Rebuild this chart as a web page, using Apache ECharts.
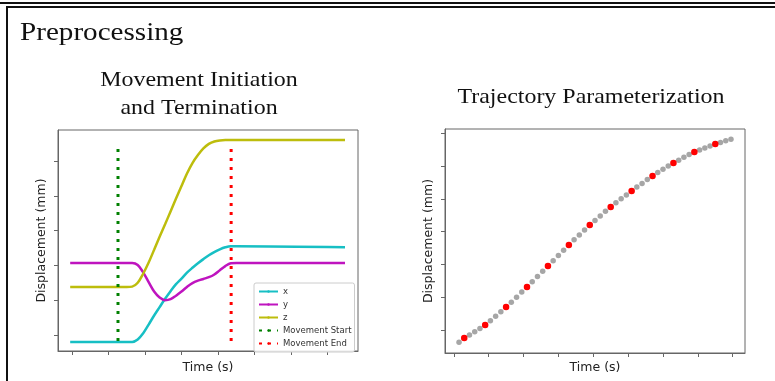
<!DOCTYPE html>
<html>
<head>
<meta charset="utf-8">
<script src="https://cdn.jsdelivr.net/npm/echarts@6/dist/echarts.min.js"></script>
<style>
html,body{margin:0;padding:0;background:#fff;}
#chart{width:775px;height:381px;}
</style>
</head>
<body>
<div id="chart"></div>
<script>
// ---- Left panel: movement initiation / termination ----
const timeLeft = [-0.05, 1.5, 1.65, 1.8, 1.95, 2.1, 2.25, 2.4, 2.55, 2.7, 2.85, 3.0, 3.15, 3.3, 3.45, 3.6, 3.75, 3.9, 4.05, 4.2, 4.35, 4.5, 7.48];
const xValues = [-0.20, -0.20, -0.20, -0.13, 0.05, 0.30, 0.56, 0.80, 1.04, 1.26, 1.46, 1.62, 1.79, 1.93, 2.06, 2.18, 2.29, 2.38, 2.46, 2.52, 2.55, 2.55, 2.52];
const yValues = [2.07, 2.07, 2.07, 2.01, 1.80, 1.52, 1.25, 1.08, 1.00, 1.03, 1.13, 1.25, 1.38, 1.49, 1.56, 1.61, 1.66, 1.74, 1.86, 1.98, 2.06, 2.07, 2.07];
const zValues = [1.38, 1.38, 1.39, 1.50, 1.76, 2.08, 2.45, 2.82, 3.18, 3.55, 3.92, 4.28, 4.64, 4.94, 5.17, 5.36, 5.49, 5.56, 5.59, 5.60, 5.60, 5.60, 5.60];
const movementStart = 1.26;
const movementEnd = 4.36;
const markerRange = [-0.17, 5.49];
const leftXTicks = [0, 1, 2, 3, 4, 5, 6, 7];
const leftYTicks = [0, 1, 2, 3, 4, 5];

// ---- Right panel: trajectory parameterization ----
const trajValues = [-0.37, -0.24, -0.15, -0.05, 0.05, 0.15, 0.28, 0.42, 0.56, 0.70,
  0.85, 1.00, 1.16, 1.31, 1.47, 1.63, 1.79, 1.95, 2.11, 2.27,
  2.43, 2.59, 2.75, 2.90, 3.05, 3.20, 3.34, 3.48, 3.62, 3.75,
  3.88, 4.00, 4.12, 4.24, 4.36, 4.47, 4.59, 4.70, 4.80, 4.90,
  5.00, 5.09, 5.18, 5.27, 5.35, 5.43, 5.49, 5.55, 5.61, 5.67,
  5.72, 5.77, 5.82];
const keyIndices = [1, 5, 9, 13, 17, 21, 25, 29, 33, 37, 41, 45, 49];
const rightXTicks = [-1, 5.67, 12.33, 19, 25.67, 32.33, 39, 45.67, 52.33];
const rightYTicks = [0, 1, 2, 3, 4, 5, 6];

const serif = "'Liberation Serif', 'Times New Roman', serif";
const sans = "'DejaVu Sans', sans-serif";
const axisColor = '#666';

function pairs(ts, vs) { return ts.map((t, i) => [t, vs[i]]); }

const chart = echarts.init(document.getElementById('chart'), null, {renderer: 'canvas'});

const axisCommon = {
  axisLabel: {show: false},
  splitLine: {show: false},
  axisLine: {show: true, onZero: false, lineStyle: {color: axisColor, width: 1}},
  nameLocation: 'middle',
  nameTextStyle: {fontFamily: sans, fontSize: 12.5, color: '#222'}
};

function title(text, x, y, size) {
  return {type: 'text', x: x, y: y, scaleX: 1.14,
    style: {text: text, font: size + 'px ' + serif, fill: '#111', align: 'center', verticalAlign: 'middle'}};
}

const option = {
  animation: false,
  backgroundColor: '#fff',
  graphic: [
    {type: 'line', shape: {x1: 0, y1: 3, x2: 775, y2: 3}, style: {stroke: '#111', lineWidth: 2}},
    {type: 'rect', shape: {x: 7, y: 7, width: 800, height: 400}, style: {fill: 'none', stroke: '#111', lineWidth: 2}},
    {type: 'text', x: 20, y: 33, scaleX: 1.12,
      style: {text: 'Preprocessing', font: '26px ' + serif, fill: '#111', align: 'left', verticalAlign: 'middle'}},
    title('Movement Initiation', 199, 80, 21),
    title('and Termination', 199, 108, 21),
    title('Trajectory Parameterization', 591, 97, 21)
  ],
  grid: [
    {left: 58, top: 130, right: 417, bottom: 30, show: true, borderColor: axisColor, borderWidth: 1, backgroundColor: 'transparent'},
    {left: 445, top: 129, right: 30, bottom: 28, show: true, borderColor: axisColor, borderWidth: 1, backgroundColor: 'transparent'}
  ],
  xAxis: [
    Object.assign({}, axisCommon, {
      gridIndex: 0, type: 'value', min: -0.384, max: 7.836,
      name: 'Time (s)', nameGap: 10,
      axisTick: {show: true, customValues: leftXTicks, length: 4, lineStyle: {color: axisColor}}
    }),
    Object.assign({}, axisCommon, {
      gridIndex: 1, type: 'value', min: -2.68, max: 54.68,
      name: 'Time (s)', nameGap: 8,
      axisTick: {show: true, customValues: rightXTicks, length: 4, lineStyle: {color: axisColor}}
    })
  ],
  yAxis: [
    Object.assign({}, axisCommon, {
      gridIndex: 0, type: 'value', min: -0.46, max: 5.89,
      name: 'Displacement (mm)', nameGap: 10,
      axisTick: {show: true, customValues: leftYTicks, length: 4, lineStyle: {color: axisColor}}
    }),
    Object.assign({}, axisCommon, {
      gridIndex: 1, type: 'value', min: -0.70, max: 6.13,
      name: 'Displacement (mm)', nameGap: 10,
      axisTick: {show: true, customValues: rightYTicks, length: 4, lineStyle: {color: axisColor}}
    })
  ],
  legend: {
    left: 254, top: 283, orient: 'vertical',
    padding: [4, 3, 4, 4],
    itemWidth: 19, itemHeight: 3, itemGap: 4,
    borderColor: '#ccc', borderWidth: 1, borderRadius: 2,
    backgroundColor: 'rgba(255,255,255,0.85)',
    textStyle: {fontFamily: sans, fontSize: 8.5, color: '#333'},
    data: ['x', 'y', 'z', 'Movement Start', 'Movement End']
  },
  series: [
    {name: 'x', type: 'line', xAxisIndex: 0, yAxisIndex: 0, data: pairs(timeLeft, xValues), smooth: 0.35, showSymbol: false, symbol: 'none', lineStyle: {color: '#17bfc4', width: 2.5}, itemStyle: {color: '#17bfc4'}},
    {name: 'y', type: 'line', xAxisIndex: 0, yAxisIndex: 0, data: pairs(timeLeft, yValues), smooth: 0.35, showSymbol: false, symbol: 'none', lineStyle: {color: '#bf14bf', width: 2.5}, itemStyle: {color: '#bf14bf'}},
    {name: 'z', type: 'line', xAxisIndex: 0, yAxisIndex: 0, data: pairs(timeLeft, zValues), smooth: 0.35, showSymbol: false, symbol: 'none', lineStyle: {color: '#bdbd0c', width: 2.5}, itemStyle: {color: '#bdbd0c'}},
    {name: 'Movement Start', type: 'line', xAxisIndex: 0, yAxisIndex: 0, data: markerRange.map(v => [movementStart, v]), showSymbol: false, symbol: 'none', lineStyle: {color: '#008000', width: 3, type: [3, 6]}, itemStyle: {color: '#008000'}},
    {name: 'Movement End', type: 'line', xAxisIndex: 0, yAxisIndex: 0, data: markerRange.map(v => [movementEnd, v]), showSymbol: false, symbol: 'none', lineStyle: {color: '#ff0000', width: 3, type: [3, 6]}, itemStyle: {color: '#ff0000'}},
    {name: 'samples', type: 'scatter', xAxisIndex: 1, yAxisIndex: 1, data: trajValues.map((v, i) => [i, v]), symbolSize: 5.5, itemStyle: {color: '#a6a6a6', opacity: 1}},
    {name: 'key', type: 'scatter', xAxisIndex: 1, yAxisIndex: 1, data: keyIndices.map(i => [i, trajValues[i]]), symbolSize: 6.5, itemStyle: {color: '#ff0000', opacity: 1}}
  ]
};
chart.setOption(option);
</script>
</body>
</html>
